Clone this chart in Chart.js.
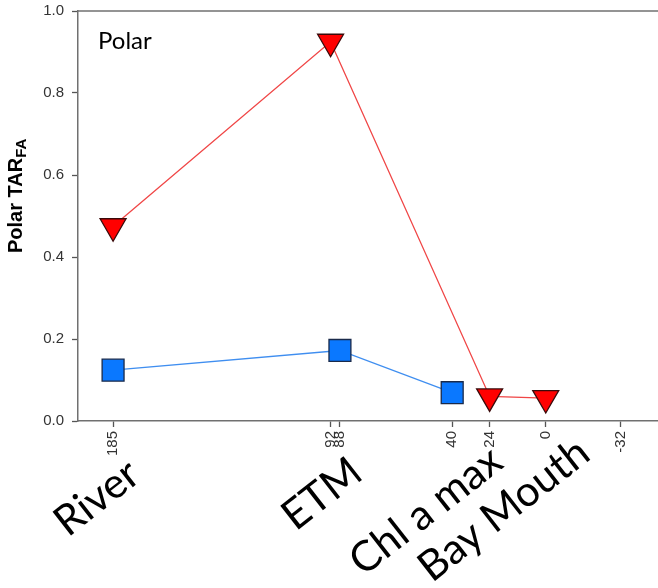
<!DOCTYPE html>
<html>
<head>
<meta charset="utf-8">
<script src="https://cdn.jsdelivr.net/npm/chart.js@4.4.1/dist/chart.umd.min.js"></script>
<style>
  html, body { margin: 0; padding: 0; background: #fff; overflow: hidden; }
  #wrap { width: 658px; height: 588px; position: relative; }
</style>
</head>
<body>
<div id="wrap"><canvas id="c" width="658" height="588"></canvas></div>
<script>
// Station distances (km) shown as axis ticks
const stationKm = [185, 92, 88, 40, 24, 0, -32];
// Polar TAR_FA, red triangles
const polarKm = [185, 92, 24, 0];
const polarTar = [0.475, 0.925, 0.060, 0.056];
// Polar TAR_FA, blue squares
const squareKm = [185, 88, 40];
const squareTar = [0.124, 0.172, 0.069];
// Estuary region names written under the axis
const regionNames = ['River', 'ETM', 'Chl a max', 'Bay Mouth'];

const AXIS_FONT = 'Liberation Sans, Arial, sans-serif';
const TEXT_FONT = 'Lato, "Open Sans", sans-serif';

const decorations = {
  id: 'decorations',
  afterDraw(chart) {
    const { ctx, chartArea } = chart;
    ctx.save();
    // top frame line
    ctx.strokeStyle = '#707070';
    ctx.lineWidth = 1.5;
    ctx.beginPath();
    ctx.moveTo(chartArea.left, chartArea.top);
    ctx.lineTo(chartArea.right, chartArea.top);
    ctx.stroke();

    // y axis title with subscript
    ctx.fillStyle = '#000';
    ctx.translate(22, 253);
    ctx.rotate(-Math.PI / 2);
    ctx.textAlign = 'left';
    ctx.textBaseline = 'alphabetic';
    ctx.font = 'bold 20px ' + AXIS_FONT;
    ctx.fillText('Polar TAR', 0, 0);
    const w = ctx.measureText('Polar TAR').width;
    ctx.font = 'bold 15px ' + AXIS_FONT;
    ctx.fillText('FA', w, 4);
    ctx.restore();

    // panel label
    ctx.save();
    ctx.fillStyle = '#000';
    ctx.font = '24px ' + TEXT_FONT;
    ctx.textBaseline = 'alphabetic';
    ctx.fillText('Polar', 98, 49);
    ctx.restore();

    // region names, slanted
    const centers = [[97, 498], [322, 494], [426, 511], [504, 510]];
    ctx.save();
    ctx.fillStyle = '#000';
    ctx.font = '42px ' + TEXT_FONT;
    ctx.textAlign = 'center';
    ctx.textBaseline = 'middle';
    regionNames.forEach((name, i) => {
      ctx.save();
      ctx.translate(centers[i][0], centers[i][1]);
      ctx.rotate(-38 * Math.PI / 180);
      ctx.fillText(name, 0, 0);
      ctx.restore();
    });
    ctx.restore();
  }
};

new Chart(document.getElementById('c'), {
  type: 'scatter',
  data: {
    datasets: [
      {
        data: squareKm.map((x, i) => ({ x, y: squareTar[i] })),
        showLine: true,
        borderColor: '#3f8ef0',
        borderWidth: 1.3,
        pointStyle: 'rect',
        pointRadius: 15.5,
        pointBackgroundColor: '#0a78ff',
        pointBorderColor: '#1a2a4a',
        pointBorderWidth: 1.3,
        clip: false
      },
      {
        data: polarKm.map((x, i) => ({ x, y: polarTar[i] })),
        showLine: true,
        borderColor: '#f04646',
        borderWidth: 1.3,
        pointStyle: 'triangle',
        rotation: 180,
        pointRadius: 15,
        pointBackgroundColor: '#ff0000',
        pointBorderColor: '#3a0a0a',
        pointBorderWidth: 1.3,
        clip: false
      }
    ]
  },
  options: {
    responsive: false,
    animation: false,
    devicePixelRatio: 1,
    layout: { autoPadding: false, padding: { top: 11, right: 0, left: 0, bottom: 0 } },
    plugins: { legend: { display: false }, tooltip: { enabled: false } },
    scales: {
      x: {
        type: 'linear',
        reverse: true,
        min: -48,
        max: 200,
        afterBuildTicks: (s) => { s.ticks = stationKm.map(v => ({ value: v })); },
        afterFit: (s) => { s.height = 167; s.paddingLeft = 0; s.paddingRight = 0; },
        ticks: {
          autoSkip: false,
          minRotation: 90,
          maxRotation: 90,
          padding: 4,
          color: '#333',
          font: { family: AXIS_FONT, size: 15 },
          callback: (v) => String(v)
        },
        grid: { drawOnChartArea: false, drawTicks: true, tickLength: 6, color: '#555', tickWidth: 1.3 },
        border: { display: true, color: '#707070', width: 1.5 }
      },
      y: {
        min: 0,
        max: 1,
        afterFit: (s) => { s.width = 78; s.paddingTop = 0; s.paddingBottom = 0; },
        ticks: {
          stepSize: 0.2,
          padding: 8,
          color: '#333',
          font: { family: AXIS_FONT, size: 15 },
          callback: (v) => Number(v).toFixed(1)
        },
        grid: { drawOnChartArea: false, drawTicks: true, tickLength: 6, color: '#555', tickWidth: 1.3 },
        border: { display: true, color: '#707070', width: 1.5 }
      }
    }
  },
  plugins: [decorations]
});
</script>
</body>
</html>
